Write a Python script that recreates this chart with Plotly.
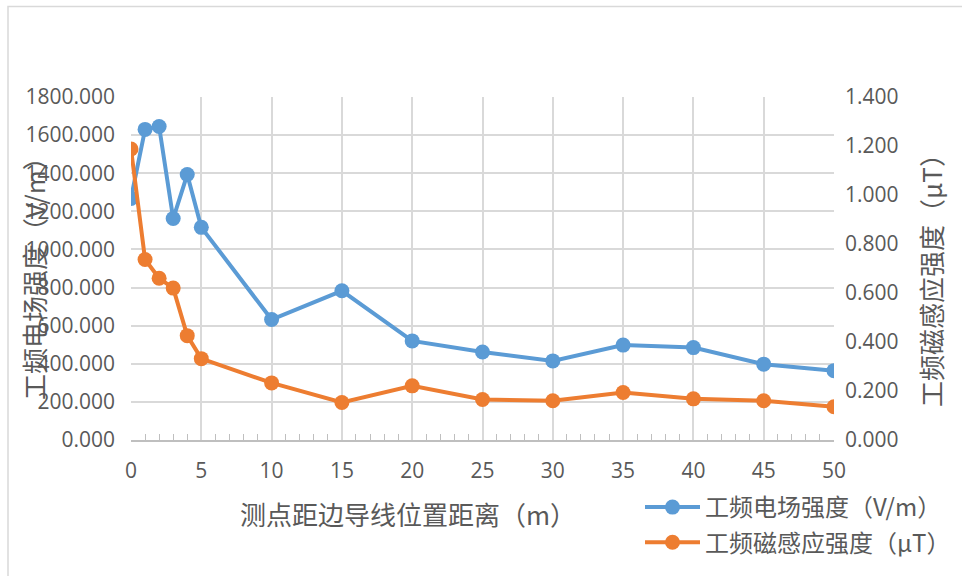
import plotly.graph_objects as go

# Distance of measuring point from the outer conductor (m)
distance = [0, 1, 2, 3, 4, 5, 10, 15, 20, 25, 30, 35, 40, 45, 50]
# Power-frequency electric field strength (V/m)
e_field = [1268, 1630, 1645, 1162, 1393, 1116, 632, 783, 520, 462, 415, 498, 485, 398, 364]
# Power-frequency magnetic induction (uT)
b_field = [1.188, 0.737, 0.660, 0.620, 0.426, 0.332, 0.233, 0.153, 0.221, 0.165, 0.160, 0.194, 0.168, 0.160, 0.136]

name_e = "工频电场强度（V/m）"
name_b = "工频磁感应强度（μT）"
x_title = "测点距边导线位置距离（m）"

FONT = "Noto Sans CJK SC"
NUM_FONT = "Open Sans"
TXT = "#595959"
GRID = "#d9d9d9"
BLUE = "#5B9BD5"
ORANGE = "#ED7D31"

fig = go.Figure()
fig.add_trace(go.Scatter(
    x=distance, y=e_field, name=name_e, mode="lines+markers",
    line=dict(color=BLUE, width=4), marker=dict(color=BLUE, size=15),
    legendgroup="e", yaxis="y",
))
fig.add_trace(go.Scatter(
    x=distance, y=b_field, name=name_b, mode="lines+markers",
    line=dict(color=ORANGE, width=4), marker=dict(color=ORANGE, size=15),
    legendgroup="b", yaxis="y2",
))

x_dom = [131 / 962, 834 / 962]
y_dom = [1 - 440 / 576, 1 - 97 / 576]
tick_font = dict(family=NUM_FONT, size=21, color=TXT)

fig.update_layout(
    width=962, height=576, autosize=False,
    margin=dict(l=0, r=0, t=0, b=0, autoexpand=False),
    paper_bgcolor="white", plot_bgcolor="white",
    font=dict(family=FONT, color=TXT, size=20),
    xaxis=dict(
        domain=x_dom, range=[0, 50], tickmode="linear", tick0=0, dtick=5,
        showgrid=True, gridcolor=GRID, gridwidth=1.5,
        zeroline=False, showline=True, linecolor="#bfbfbf", linewidth=1.5,
        ticks="", ticklabelstandoff=11, automargin=False,
        minor=dict(dtick=1, ticks="inside", ticklen=6, tickcolor="#bfbfbf", showgrid=False),
        tickfont=tick_font,
    ),
    yaxis=dict(
        domain=y_dom, range=[0, 1800], tickmode="linear", tick0=0, dtick=200,
        tickformat=".3f", showgrid=True, gridcolor=GRID, gridwidth=1.5,
        zeroline=False, showline=False, ticks="", ticklabelstandoff=15,
        automargin=False, tickfont=tick_font,
    ),
    yaxis2=dict(
        overlaying="y", side="right", anchor="x", range=[0, 1.4],
        tickmode="linear", tick0=0, dtick=0.2, tickformat=".3f",
        showgrid=False, zeroline=False, showline=False, ticks="",
        ticklabelstandoff=10, automargin=False, tickfont=tick_font,
    ),
    showlegend=True,
    legend=dict(
        x=640 / 962, y=1 - 485 / 576, xanchor="left", yanchor="top",
        bgcolor="rgba(0,0,0,0)", font=dict(size=24, color=TXT, family=FONT),
        tracegroupgap=1, itemwidth=55,
    ),
    annotations=[
        dict(text=x_title, xref="paper", yref="paper", x=408 / 962, y=1 - 513 / 576,
             xanchor="center", yanchor="middle",
             showarrow=False, font=dict(size=26, color=TXT)),
        dict(text=name_e, xref="paper", yref="paper", x=33 / 962, y=1 - 272 / 576,
             xanchor="center", yanchor="middle",
             textangle=-90, showarrow=False, font=dict(size=26, color=TXT)),
        dict(text=name_b, xref="paper", yref="paper", x=930 / 962, y=1 - 274 / 576,
             xanchor="center", yanchor="middle",
             textangle=-90, showarrow=False, font=dict(size=26, color=TXT)),
    ],
    shapes=[
        dict(type="rect", xref="paper", yref="paper",
             x0=8 / 962, x1=1.02, y0=-0.02, y1=1 - 6.5 / 576,
             line=dict(color="#d9d9d9", width=1.5), layer="below"),
    ],
)

fig.write_html("out.html")
